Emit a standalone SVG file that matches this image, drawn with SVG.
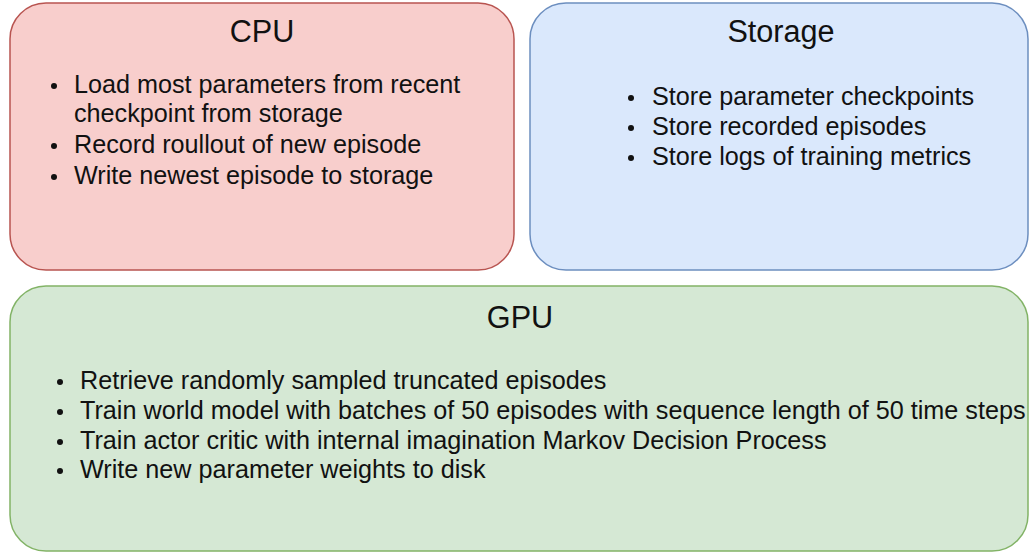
<svg xmlns="http://www.w3.org/2000/svg" width="1029" height="553" viewBox="0 0 1029 553">
  <style>
    .box { stroke-width: 1.5; }
    .cpu { fill: #f8cecc; stroke: #b85450; }
    .sto { fill: #dae8fc; stroke: #6c8ebf; }
    .gpu { fill: #d5e8d4; stroke: #82b366; }
    .title { font-family: "Liberation Sans", Arial, sans-serif; font-size: 30.6px; fill: #111; text-anchor: middle; }
    .item { font-family: "Liberation Sans", Arial, sans-serif; font-size: 25.2px; fill: #111; }
    .dot { fill: #111; }
  </style>
  <rect width="1029" height="553" fill="#ffffff"/>

  <g id="cpu">
    <rect class="box cpu" x="10" y="3" width="504" height="267" rx="36" ry="36"/>
    <text class="title" x="262" y="42">CPU</text>
    <circle class="dot" cx="54" cy="86" r="3"/>
    <text class="item" x="74" y="93">Load most parameters from recent</text>
    <text class="item" x="74" y="122">checkpoint from storage</text>
    <circle class="dot" cx="54" cy="146" r="3"/>
    <text class="item" x="74" y="153">Record roullout of new episode</text>
    <circle class="dot" cx="54" cy="177" r="3"/>
    <text class="item" x="74" y="184">Write newest episode to storage</text>
  </g>

  <g id="storage">
    <rect class="box sto" x="530" y="3" width="498" height="267" rx="36" ry="36"/>
    <text class="title" x="781" y="42">Storage</text>
    <circle class="dot" cx="631" cy="98" r="3"/>
    <text class="item" x="652" y="105">Store parameter checkpoints</text>
    <circle class="dot" cx="631" cy="128" r="3"/>
    <text class="item" x="652" y="135">Store recorded episodes</text>
    <circle class="dot" cx="631" cy="158" r="3"/>
    <text class="item" x="652" y="165">Store logs of training metrics</text>
  </g>

  <g id="gpu">
    <rect class="box gpu" x="10" y="286" width="1018" height="265" rx="36" ry="36"/>
    <text class="title" x="520" y="328">GPU</text>
    <circle class="dot" cx="60" cy="382" r="3"/>
    <text class="item" x="80" y="389">Retrieve randomly sampled truncated episodes</text>
    <circle class="dot" cx="60" cy="412" r="3"/>
    <text class="item" x="80" y="419">Train world model with batches of 50 episodes with sequence length of 50 time steps</text>
    <circle class="dot" cx="60" cy="442" r="3"/>
    <text class="item" x="80" y="449">Train actor critic with internal imagination Markov Decision Process</text>
    <circle class="dot" cx="60" cy="471" r="3"/>
    <text class="item" x="80" y="478">Write new parameter weights to disk</text>
  </g>

  <g id="connectors"></g>
</svg>
